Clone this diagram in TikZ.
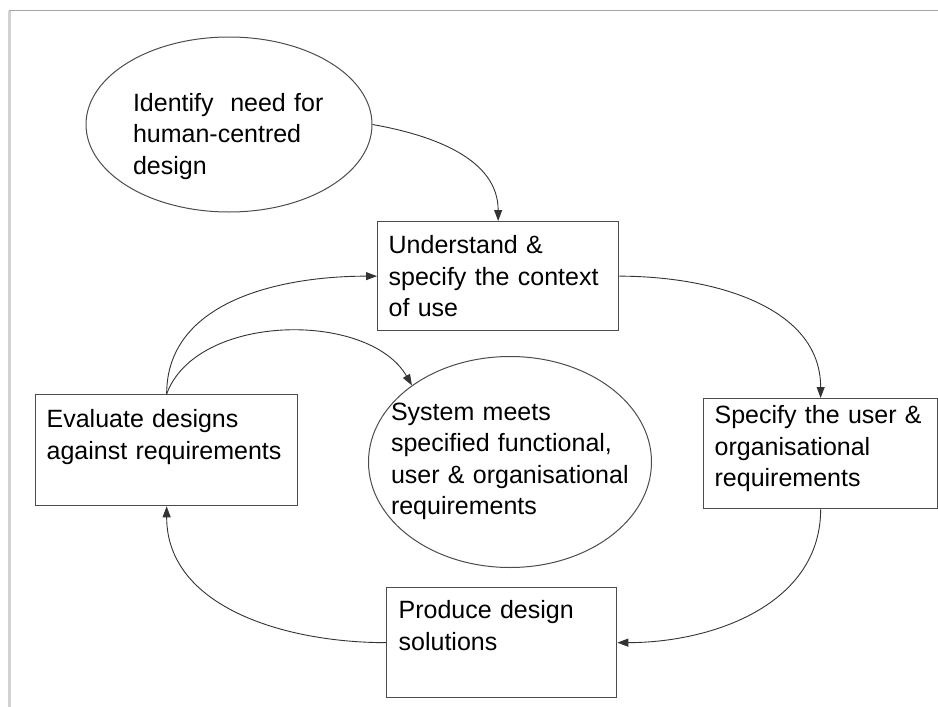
\documentclass[tikz,border=0pt]{standalone}
\usepackage{fontspec}
\setmainfont{Liberation Sans}
\usetikzlibrary{shapes.geometric,arrows.meta}

\begin{document}
\begin{tikzpicture}[x=1pt,y=1pt]
		\tikzstyle{stage} = [rectangle,draw=black!70,line width=1.3pt,anchor=north west,align=left,inner xsep=11pt,inner ysep=0pt,font=\fontsize{25}{31.5}\selectfont]
		\tikzstyle{goal} = [ellipse,draw=black!70,line width=1pt,align=left,inner sep=-40pt,font=\fontsize{25}{31.5}\selectfont]
		\tikzstyle{link} = [->,>={Triangle[length=11pt,width=8pt]},line width=0.9pt,black!80]
		
		\useasboundingbox (0,0) rectangle (938,-707);
		% frame
		\draw[gray!70,line width=1.5pt] (9,-10.5) -- (938,-10.5);
		\draw[gray!35,line width=3pt] (9.5,-10.5) -- (9.5,-707);
		
		\node[goal,minimum width=286pt,minimum height=175pt,text width=192pt,text height=20pt,text depth=47pt](Identify) at (229,-124.5) {Identify\ \ need for\\human-centred\\design};
		\node[goal,minimum width=283pt,minimum height=211pt,text width=238pt,text height=20pt,text depth=104pt](System) at (510,-462) {System meets\\specified functional,\\user \& organisational\\requirements};
		
		\node[stage,text width=219pt,text height=32pt,text depth=77pt](Understand) at (377,-221) {Understand \&\\specify the context\\of use};
		\node[stage,text width=212pt,text height=25pt,text depth=85pt](Specify) at (703,-398) {Specify the user \&\\organisational\\requirements};
		\node[stage,inner xsep=12pt,text width=206pt,text height=31pt,text depth=79pt](Produce) at (386,-587) {Produce design\\solutions};
		\node[stage,text width=240pt,text height=33pt,text depth=78pt](Evaluate) at (35,-394) {Evaluate designs\\against requirements};
		
		\draw[link] (Identify.east) to[out=-10,in=90] (Understand.north);
		\draw[link] (Understand.east) to[out=0,in=90] (Specify.north);
		\draw[link] (Specify.south) to[out=-90,in=0] (Produce.east);
		\draw[link] (Produce.west) to[out=180,in=-90] (Evaluate.south);
		\draw[link] (Evaluate.north) to[out=90,in=180] (Understand.west);
		\draw[link] (Evaluate.north) to[out=70,in=120,looseness=0.9] (System.142);
		\end{tikzpicture}
\end{document}
